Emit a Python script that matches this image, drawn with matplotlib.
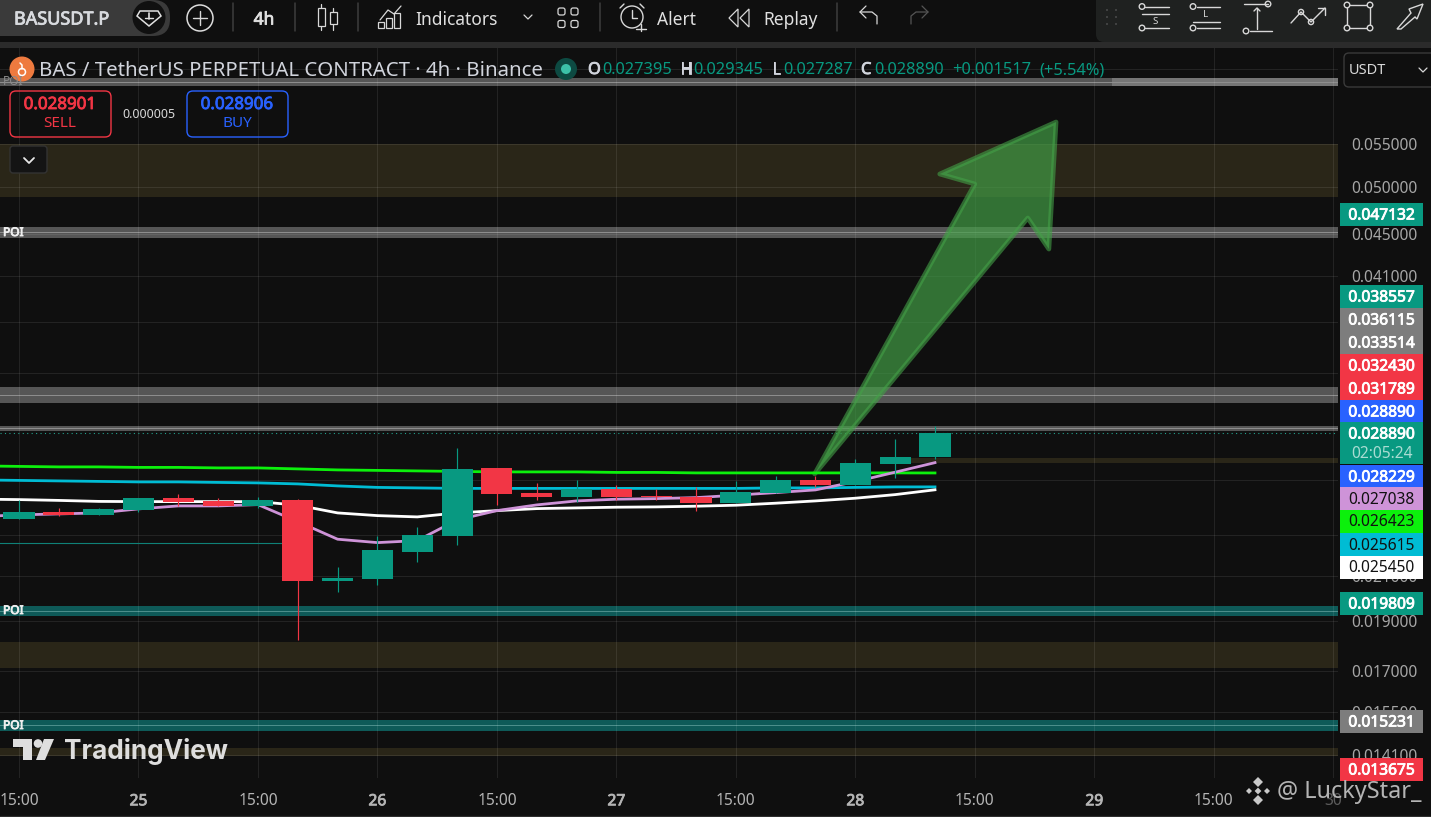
import matplotlib
matplotlib.use("Agg")
import matplotlib.pyplot as plt
import matplotlib.patheffects as pe
from matplotlib.patches import Rectangle, Circle, FancyBboxPatch, Polygon
from matplotlib.ticker import FixedLocator, FixedFormatter, NullLocator

plt.rcParams['font.family'] = ['Noto Sans', 'DejaVu Sans']

# ---- data ----
opens  = [.023851,.024226,.024065,.024334,.024994,.024827,.024552,.024882,.020773,.020866,.022160,.022964,
          .026722,.025274,.025050,.025500,.025105,.025050,.024717,.025274,.026017,.025729,.026961,.027395]
closes = [.024226,.024065,.024389,.024994,.024772,.024552,.024882,.020773,.020913,.022259,.023016,.026663,
          .025217,.025050,.025500,.025050,.025050,.024717,.025330,.026017,.025729,.027022,.027385,.028890]
highs  = [.024882,.024443,.024443,.024994,.025217,.024994,.025050,.024939,.021431,.022964,.023430,.027940,
          .026722,.025844,.026017,.025729,.025500,.025614,.025959,.026250,.026250,.027263,.028506,.029345]
lows   = [.023851,.024011,.024065,.024226,.024552,.024552,.024443,.018214,.020270,.020589,.021672,.022509,
          .024607,.024882,.024772,.024882,.024882,.024280,.024717,.025274,.025614,.025729,.026133,.027287]

ma_index = list(range(-1, 24))
ma_green = [.026842,.026812,.026782,.026782,.026752,.026752,.026722,.026722,.026663,.026603,.026574,.026544,.026515,
            .026485,.026485,.026485,.026455,.026455,.026426,.026426,.026426,.026426,.026426,.026426,.026423]
ma_blue  = [.026017,.025988,.025959,.025930,.025901,.025901,.025872,.025844,.025786,.025671,.025586,.025557,.025529,
            .025529,.025529,.025529,.025529,.025529,.025529,.025529,.025557,.025557,.025586,.025614,.025615]
ma_white = [.024925,.024900,.024855,.024800,.024789,.024789,.024789,.024789,.024590,.024172,.024027,.023958,.024172,
            .024296,.024405,.024443,.024481,.024498,.024536,.024590,.024701,.024827,.024977,.025178,.025450]
ma_purple= [.023974,.024065,.024119,.024172,.024389,.024552,.024552,.024623,.023708,.022796,.022624,.022725,.023798,
            .024296,.024607,.024827,.024922,.024955,.025010,.025145,.025291,.025444,.025918,.026467,.027038]

last_price = .028890
price_ticks = [.065,.055,.05,.045,.041,.037,.033,.026,.023,.021,.019,.017,.0155,.0141]
price_tick_txt = ['','0.055000','0.050000','0.045000','0.041000','','','','','0.021000','0.019000','0.017000','0.015500','0.014100']
time_tick_pos = [0,3,6,9,12,15,18,21,24,27,30,33]
time_tick_txt = ['15:00','25','15:00','26','15:00','27','15:00','28','15:00','29','15:00','30']

grey_bands = [(.06259,.06372,.0631),(.04461,.04571,.04521),(.03088,.03200,.03144),(.02902,.029344,.02921)]
teal_bands = [(.019209,.019642,.019424),(.014866,.015234,.015056)]
olive_zones = [(.04887,.055),(.017107,.018127),(.014070,.014313)]
short_zone = (.027022,.027324,22.4)
thin_teal = (.02262,6.7)
arrow_idx   = [19.98,24.0,23.12,26.04,25.86,25.33]
arrow_price = [.026367,.05031,.05144,.05776,.04352,.04664]

price_tags = [('0.047132','#089981',214,'w'),('0.038557','#089981',296,'w'),('0.036115','#7d7d7d',319,'w'),
              ('0.033514','#7d7d7d',342,'w'),('0.032430','#f23645',365,'w'),('0.031789','#f23645',388,'w'),
              ('0.028890','#2962ff',411,'w'),('0.028229','#2962ff',476,'w'),('0.027038','#ce93d8',498,'#111'),
              ('0.026423','#0cf00c',521,'#111'),('0.025615','#00bcd4',544,'#111'),('0.025450','#ffffff',567,'#111'),
              ('0.019809','#089981',603,'w'),('0.015231','#7d7d7d',721,'w'),('0.013675','#f23645',769,'w')]

BG = '#0f0f0f'
UP, DOWN = '#089981', '#f23645'
W, H = 1431, 817
fig = plt.figure(figsize=(W/100, H/100), dpi=100, facecolor=BG)

# ---- main chart ----
L, R, T, B = 0, 1338, 48, 778
ax = fig.add_axes([L/W, 1-B/H, (R-L)/W, (B-T)/H], facecolor=BG)
ax.set_yscale('log')
ax.set_xlim(-0.477, 33.12)
ax.set_ylim(.013389, .06812)
ax.yaxis.tick_right()
ax.set_xticks(time_tick_pos)
ax.set_xticklabels(time_tick_txt)
ax.tick_params(axis='y', length=0, pad=9.5, labelsize=11.2, labelcolor='#a6a6a6')
ax.tick_params(axis='x', length=0, pad=11, labelsize=11.2, labelcolor='#b4b4b4')
for t, s in zip(ax.get_xticklabels(), time_tick_txt):
    if ':' not in s:
        t.set_path_effects([pe.withStroke(linewidth=.6, foreground='#b4b4b4')])
ax.get_xticklabels()[-1].set_color('#5c5c5c')
ax.get_xticklabels()[-1].set_path_effects([])
for s in ax.spines.values():
    s.set_visible(False)

for lo, hi in olive_zones:
    ax.axhspan(lo, hi, color='#2a2618', lw=0, zorder=1)
ax.fill_between([short_zone[2], 33.12], short_zone[0], short_zone[1], color='#2a2618', lw=0, zorder=1)
for lo, hi, mid in grey_bands:
    ax.axhspan(lo, hi, color='#565656', lw=0, zorder=1)
    ax.axhline(mid, color='#8f8f8f', lw=.7, zorder=1.2)
ax.fill_between([27.45, 33.12], grey_bands[0][0], grey_bands[0][1], color='#767676', lw=0, zorder=1.1)
for lo, hi, mid in teal_bands:
    ax.axhspan(lo, hi, color='#0e5a58', lw=0, zorder=1)
    ax.axhline(mid, color='#4f908d', lw=.7, zorder=1.2)
ax.plot([-0.477, thin_teal[1]], [thin_teal[0]]*2, color='#0f8178', lw=.8, zorder=3)
ax.axhline(last_price, color='#23a08c', lw=.8, ls=(0, (1, 3)), zorder=2.6)

ax.fill(arrow_idx, arrow_price, facecolor='#43a047', alpha=.68, lw=0, zorder=3)
ax.fill(arrow_idx, arrow_price, facecolor='none', edgecolor='#43a047', alpha=.6, lw=3.4, joinstyle='round', zorder=3)

ax.plot(ma_index, ma_green, color='#0cf00c', lw=2, zorder=4)
ax.plot(ma_index, ma_blue, color='#00bcd4', lw=2, zorder=4)
ax.plot(ma_index, ma_white, color='#ffffff', lw=2, zorder=4)
ax.plot(ma_index, ma_purple, color='#ce93d8', lw=2, zorder=4)

idx = range(len(opens))
cols = [UP if c >= o else DOWN for o, c in zip(opens, closes)]
ax.vlines(idx, lows, highs, colors=cols, lw=.85, zorder=5)
bottoms = [min(o, c) for o, c in zip(opens, closes)]
heights = [max(abs(c - o), .00005) for o, c in zip(opens, closes)]
ax.bar(idx, heights, bottom=bottoms, width=.78, color=cols, lw=0, zorder=6)
ax.set_yscale('log')
ax.set_ylim(.013389, .06812)
ax.yaxis.set_major_locator(FixedLocator(price_ticks))
ax.yaxis.set_major_formatter(FixedFormatter(price_tick_txt))
ax.yaxis.set_minor_locator(NullLocator())
ax.grid(True, color='#ffffff', alpha=.085, lw=.8, zorder=2)
ax.set_axisbelow(False)

# ---- overlay in pixel coordinates ----
ov = fig.add_axes([0, 0, 1, 1], facecolor='none', zorder=10)
ov.set_xlim(0, W); ov.set_ylim(H, 0); ov.axis('off')

def txt(x, y, s, size=11, color='#d1d4dc', ha='left', bold=False, **kw):
    t = ov.text(x, y + 1.5, s, fontsize=size, color=color, ha=ha, va='center', **kw)
    if bold:
        t.set_path_effects([pe.withStroke(linewidth=.6, foreground=color)])
    return t
def rect(x0, y0, x1, y1, fc, **kw):
    ov.add_patch(Rectangle((x0, y0), x1-x0, y1-y0, facecolor=fc, lw=0, **kw))
def box(x0, y0, x1, y1, fc='none', ec='none', r=5, lw=1):
    ov.add_patch(FancyBboxPatch((x0+r, y0+r), x1-x0-2*r, y1-y0-2*r, boxstyle=f'round,pad={r}',
                                facecolor=fc, edgecolor=ec, lw=lw))
def seg(xs, ys, c='#d8d8d8', lw=1.0, **kw):
    ov.plot(xs, ys, color=c, lw=lw, solid_capstyle='round', **kw)
def ring(x, y, r, c='#d8d8d8', lw=1.0, fc='none'):
    ov.add_patch(Circle((x, y), r, facecolor=fc, edgecolor=c, lw=lw))

# toolbar
rect(0, 0, W, 42, BG)
rect(0, 42, W, 48, '#2b2b2b')
box(-30, 0, 170, 36, fc='#3a3a3a', r=17)
ov.add_patch(Circle((149, 17.5), 16.5, facecolor='#101010', edgecolor='none'))
txt(14, 18, 'BASUSDT.P', 13, '#d8dade', bold=True)
ov.add_patch(Polygon([[140,11],[158,11],[161,16],[149,26],[137,16]], closed=True, fc='none', ec='#e0e0e0', lw=1.1))
seg([149,149],[13,19],'#e0e0e0',1.2); seg([145,153],[18,18],'#e0e0e0',1)
ring(200, 18, 13, '#dcdcdc', 1.1); seg([193,207],[18,18]); seg([200,200],[11,25])
for x in (233, 295, 358, 600, 837):
    seg([x,x],[3,31],'#3d3d3d',1.1)
txt(264, 18, '4h', 12.5, '#e0e0e0', ha='center', bold=True)
for x, y0, y1, a, b in [(321,4,30,8,26),(333,8,30,12,24)]:
    seg([x,x],[y0,y1],'#d8d8d8',.9)
    ov.add_patch(Rectangle((x-3.5,a),7,b-a,fc=BG,ec='#d8d8d8',lw=.9,zorder=3))
seg([380,388,394,401],[20,10,14,6],'#d8d8d8',.9)
for x,h in [(381,6),(389,10),(397,15)]:
    ov.add_patch(Rectangle((x-3,28-h),6,h,fc='none',ec='#d8d8d8',lw=.9))
txt(415, 18, 'Indicators', 12.5, '#e0e0e0')
seg([524,528,532],[15,19,15],'#d8d8d8',.9)
for x in (561.5,574.5):
    for y in (11.5,24):
        box(x-3.5,y-3.5,x+3.5,y+3.5,ec='#d8d8d8',r=2,lw=.9)
ring(632,17,11,'#d8d8d8',1); seg([632,632,637],[10,18,18]); seg([636,646],[29,29]); seg([641,641],[24,31])
seg([620,624],[8,4]); seg([640,644],[4,8])
txt(657, 18, 'Alert', 12.5, '#e0e0e0')
for x in (729, 740):
    ov.add_patch(Polygon([[x,18],[x+9,9],[x+9,27]],closed=True,fc='none',ec='#d8d8d8',lw=.9))
txt(763, 18, 'Replay', 12.5, '#e0e0e0')
seg([866,860,866],[6,12,18],'#d8d8d8',.9); seg([860,872,877,877],[12,12,16,24],'#d8d8d8',.9)
seg([922,928,922],[6,12,18],'#555555',.9); seg([928,916,911,911],[12,12,16,24],'#555555',.9)

# drawing tools panel
box(1096,-12,1445,42,fc='#1f2120',r=8)
for x in (1107,1116):
    for y in (10,17,24):
        ov.add_patch(Circle((x,y),1,fc='#4a4a4a',ec='none'))
seg([1145,1169],[6.5,6.5]); ring(1142,6.5,2.8); seg([1142,1169],[13.5,13.5]); seg([1145,1169],[28,28]); ring(1142,28,2.8)
txt(1155,19.5,'S',7,'#d8d8d8',ha='center')
seg([1197,1220],[6.5,6.5]); ring(1193,6.5,2.8); seg([1193,1220],[21.5,21.5]); seg([1197,1220],[28,28]); ring(1193,28,2.8)
txt(1206,12.5,'L',7,'#d8d8d8',ha='center')
seg([1244,1268],[4,4]); ring(1268,4,2.8); seg([1250,1272],[31,31]); ring(1246,31,2.8); seg([1257,1257],[8,29]); seg([1254,1257,1260],[11,8,11])
seg([1291,1301,1311,1325],[23,12,22,8]); ring(1301,12,2.6,fc='#1f2120'); ring(1311,22,2.6,fc='#1f2120'); seg([1318,1325,1325],[8,8,15])
ov.add_patch(Rectangle((1347,5),23,23,fc='none',ec='#d8d8d8',lw=1))
for px_,py_ in [(1347,5),(1370,5),(1347,28),(1370,28)]:
    ring(px_,py_,2.8,fc='#1f2120')
ov.add_patch(Polygon([[1397,29],[1401,29],[1415,17],[1417,19],[1423,4],[1409,9],[1411,13]],closed=True,fc='none',ec='#d8d8d8',lw=1))

# legend line
ov.add_patch(Circle((22,69),12.5,fc='#ee7a3f',ec='none'))
ring(22,72,3.5,'#ffffff',1.1); seg([20,22,22],[63,65,69],'#ffffff',1.1)
txt(39,69.5,'BAS / TetherUS PERPETUAL CONTRACT · 4h · Binance',14.7,'#d1d4dc')
ov.add_patch(Circle((566,69),11,fc='#0d4a42',ec='none'))
ov.add_patch(Circle((566,69),5,fc='#3cc0a8',ec='none'))
for lab, xl, val, xv in [('O',588,'0.027395',602),('H',680,'0.029345',693),('L',772,'0.027287',783),('C',861,'0.028890',874)]:
    txt(xl,68.5,lab,11.8,'#d1d4dc',bold=True)
    txt(xv,68.5,val,11.8,UP)
txt(952,68.5,'+0.001517',11.8,UP)
txt(1039,68.5,'(+5.54%)',11.8,UP)

# buy/sell
box(10,91,111,137,ec=DOWN,r=6)
txt(60,103.5,'0.028901',12.2,DOWN,ha='center',bold=True)
txt(60,122,'SELL',11,DOWN,ha='center')
txt(149,113,'0.000005',9,'#d8d8d8',ha='center')
box(187,91,288,137,ec='#2962ff',r=6)
txt(237,103.5,'0.028906',12.2,'#2962ff',ha='center',bold=True)
txt(237,122,'BUY',11,'#2962ff',ha='center')
box(10,146,47,173,fc='#141414',ec='#333333',r=3)
seg([24,29,34],[158,163,158],'#e8e8e8',1.3)

# POI tags
txt(3,79.5,'POI',8.6,'#8a8a8a')
for y in (231,609,724):
    txt(3,y,'POI',8.6,'#f0f0f0',bold=True)

# price scale
box(1344,53,1445,87,fc=BG,ec='#3a3a3a',r=5)
txt(1349,68.5,'USDT',10.5,'#d8d8d8')
seg([1419,1423,1427],[68,72,68],'#d8d8d8',.9)
for s, c, y, tc in price_tags:
    rect(1340, y-11.5, 1423, y+11.5, c)
    txt(1381.5, y, s, 11.2, tc, ha='center', bold=(tc == 'w'))
rect(1340, 422, 1423, 464, UP)
txt(1381.5, 433, '0.028890', 11.2, 'w', ha='center', bold=True)
txt(1381.5, 452, '02:05:24', 11.2, '#a9dcd2', ha='center')

# TradingView mark
rect(13,739,32,747,'#dedede'); rect(23,747,32,760,'#dedede')
ov.add_patch(Circle((38,743.5),4.3,fc='#dedede',ec='none'))
ov.add_patch(Polygon([[44,739],[54,739],[45,760],[36,760]],closed=True,fc='#dedede',ec='none'))
txt(64,750,'TradingView',18.8,'#dedede',weight='bold',family='Inter')

# photo credit
for dx, dy, s in [(0,-9,5),(-9,0,3),(9,0,3),(0,0,3.4),(0,9,5)]:
    ov.add_patch(Polygon([[1258+dx-s,791+dy],[1258+dx,791+dy-s],[1258+dx+s,791+dy],[1258+dx,791+dy+s]],closed=True,fc='#c9c9c9',ec='none'))
txt(1277,791,'@ LuckyStar_',16.9,'#b4b4b4')
seg([0,W],[815.5,815.5],'#2e2e2e',.9)

fig.savefig('out.png', dpi=100, facecolor=BG)
